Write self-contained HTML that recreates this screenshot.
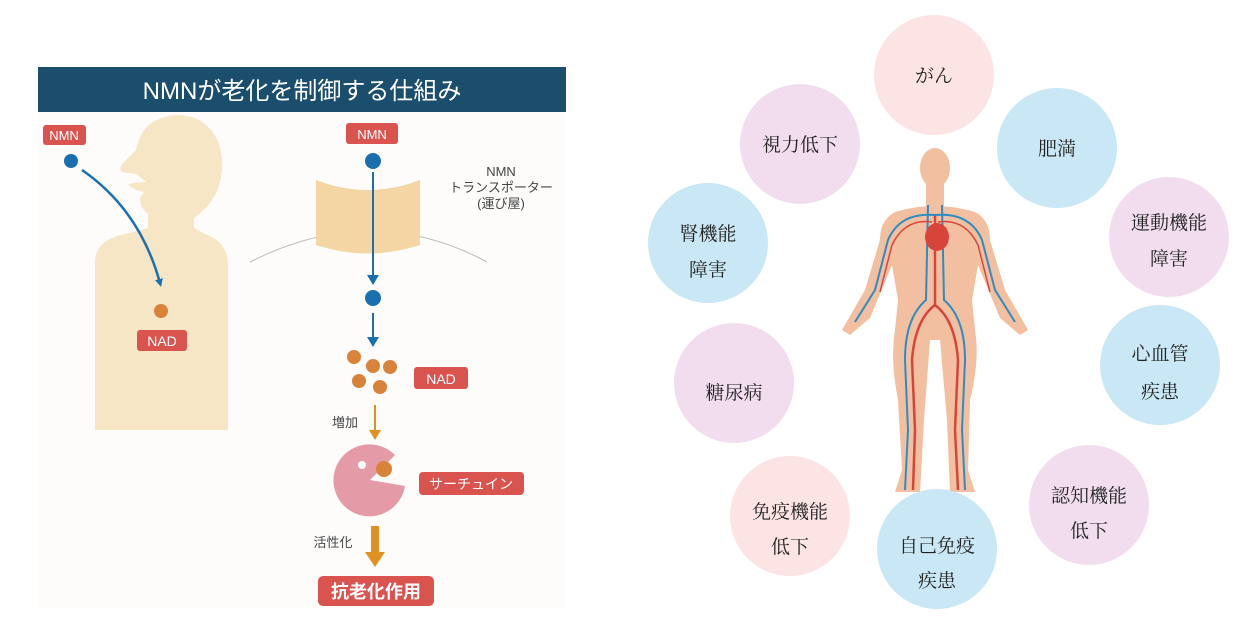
<!DOCTYPE html>
<html><head><meta charset="utf-8"><style>
html,body{margin:0;padding:0;background:#fff;width:1252px;height:640px;overflow:hidden}
svg{display:block}
.s{font-family:"Liberation Sans","Noto Sans CJK JP",sans-serif}
.m{font-family:"Liberation Serif","Noto Serif CJK SC",serif;font-size:19px;fill:#222}
</style></head><body>
<svg width="1252" height="640" viewBox="0 0 1252 640">
<defs>
<marker id="ab" markerWidth="8" markerHeight="8" refX="4" refY="4" orient="auto" markerUnits="userSpaceOnUse"><path d="M0,0 L8,4 L0,8z" fill="#1a6fae"/></marker>
</defs>
<rect x="38" y="67" width="528" height="541" fill="#fdfcfb"/>
<rect x="38" y="67" width="528" height="45" fill="#1b4d6d"/>
<text x="302" y="99" text-anchor="middle" class="s" font-size="24" fill="#fff">NMNが老化を制御する仕組み</text>
<!-- person -->
<path d="M95,430 L95,262 Q95,240 125,234 L148,228 L148,214 Q140,208 140,198 L144,192 Q132,190 128,184 Q138,182 146,182 L136,174 L122,172 Q118,168 124,162 L136,150 Q140,132 150,124 Q170,110 195,118 Q224,132 222,170 Q220,200 194,218 L194,228 L205,234 Q228,242 228,265 L228,430 Z" fill="#f6e6c6"/>
<!-- transporter -->
<path d="M250,262 Q372,200 487,262" fill="none" stroke="#bbb" stroke-width="1"/>
<path d="M316,180 Q368,200 420,180 L420,245 Q368,262 316,245 Z" fill="#f3d6a4"/>
<rect x="43" y="125" width="43" height="20" rx="3" fill="#d9534f"/>
<text x="64" y="140" text-anchor="middle" class="s" font-size="13" fill="#fff">NMN</text>
<circle cx="71" cy="161" r="7" fill="#1a6fae"/>
<path d="M82,170 Q140,210 160,283" fill="none" stroke="#1a6fae" stroke-width="2.5" marker-end="url(#ab)"/>
<circle cx="161" cy="311" r="7" fill="#d9823a"/>
<rect x="137" y="330" width="50" height="21" rx="3" fill="#d9534f"/>
<text x="162" y="346" text-anchor="middle" class="s" font-size="14" fill="#fff">NAD</text>
<rect x="346" y="123" width="52" height="21" rx="3" fill="#d9534f"/>
<text x="372" y="139" text-anchor="middle" class="s" font-size="13" fill="#fff">NMN</text>
<circle cx="373" cy="161" r="8" fill="#1a6fae"/>
<line x1="373" y1="172" x2="373" y2="277" stroke="#1a6fae" stroke-width="2"/>
<path d="M367,275 L379,275 L373,285z" fill="#1a6fae"/>
<circle cx="373" cy="298" r="8" fill="#1a6fae"/>
<line x1="373" y1="313" x2="373" y2="340" stroke="#1a6fae" stroke-width="2"/>
<path d="M367,337 L379,337 L373,347z" fill="#1a6fae"/>
<text x="501" y="176" text-anchor="middle" class="s" font-size="13" fill="#444">NMN</text>
<text x="501" y="192" text-anchor="middle" class="s" font-size="13" fill="#444">トランスポーター</text>
<text x="501" y="208" text-anchor="middle" class="s" font-size="13" fill="#444">(運び屋)</text>
<g fill="#d9823a"><circle cx="354" cy="357" r="7"/><circle cx="373" cy="366" r="7"/><circle cx="390" cy="367" r="7"/><circle cx="359" cy="381" r="7"/><circle cx="380" cy="387" r="7"/></g>
<rect x="414" y="367" width="54" height="22" rx="3" fill="#d9534f"/>
<text x="441" y="384" text-anchor="middle" class="s" font-size="14" fill="#fff">NAD</text>
<text x="345" y="427" text-anchor="middle" class="s" font-size="13" fill="#444">増加</text>
<line x1="375" y1="405" x2="375" y2="432" stroke="#e0901e" stroke-width="2"/>
<path d="M369,430 L381,430 L375,440z" fill="#e0901e"/>
<path d="M405,486 A36,36 0 1 1 395,455 L370,480 Z" fill="#e59aa8"/>
<circle cx="362" cy="465" r="4" fill="#fff"/>
<circle cx="384" cy="469" r="8" fill="#d9823a"/>
<rect x="419" y="472" width="105" height="23" rx="4" fill="#d9534f"/>
<text x="471" y="489" text-anchor="middle" class="s" font-size="14" fill="#fff">サーチュイン</text>
<text x="333" y="547" text-anchor="middle" class="s" font-size="13" fill="#444">活性化</text>
<rect x="371" y="526" width="8" height="28" fill="#e0901e"/>
<path d="M365,552 L385,552 L375,567z" fill="#e0901e"/>
<rect x="318" y="576" width="116" height="30" rx="5" fill="#d9534f"/>
<text x="376" y="598" text-anchor="middle" class="s" font-size="18" font-weight="bold" fill="#fff">抗老化作用</text>
<!-- human figure -->
<g fill="#f2bfa0">
<ellipse cx="935" cy="168" rx="15" ry="20"/>
<rect x="926" y="180" width="18" height="30"/>
<path d="M895,212 Q935,200 975,212 Q990,220 990,240 L1005,290 L1028,330 L1020,335 L1000,318 L978,265 L972,300 L975,330 Q980,360 970,400 L968,470 L975,492 L950,492 L947,420 L940,340 L930,340 L924,420 L920,492 L895,492 L902,470 L898,400 Q890,360 895,330 L898,300 L892,265 L870,318 L850,335 L842,330 L865,290 L880,240 Q880,220 895,212Z"/>
</g>
<g fill="none" stroke-width="2.5">
<path d="M935,215 L935,305 Q915,320 912,360 L915,430 L913,490" stroke="#d9443a"/>
<path d="M935,305 Q955,320 958,360 L955,430 L958,490" stroke="#d9443a"/>
<path d="M928,205 L926,300 Q905,318 905,360 L908,430 L905,490" stroke="#2c8cc4" stroke-width="2"/>
<path d="M942,205 L944,300 Q965,318 965,360 L962,430 L965,490" stroke="#2c8cc4" stroke-width="2"/>
<path d="M935,215 Q900,212 888,240 L875,290 L855,322" stroke="#2c8cc4" stroke-width="2"/>
<path d="M935,215 Q970,212 982,240 L995,290 L1015,322" stroke="#2c8cc4" stroke-width="2"/>
<path d="M932,222 Q905,218 892,245 L880,292" stroke="#d9443a" stroke-width="1.5"/>
<path d="M938,222 Q965,218 978,245 L990,292" stroke="#d9443a" stroke-width="1.5"/>
</g>
<ellipse cx="937" cy="237" rx="12" ry="14" fill="#d9443a"/>
<g>
<circle cx="934" cy="75" r="60" fill="#fbe4e3"/><text x="934" y="82" text-anchor="middle" class="m">がん</text>
<circle cx="800" cy="144" r="60" fill="#f1ddee"/><text x="800" y="151" text-anchor="middle" class="m">視力低下</text>
<circle cx="1057" cy="148" r="60" fill="#c9e7f4"/><text x="1057" y="155" text-anchor="middle" class="m">肥満</text>
<circle cx="708" cy="243" r="60" fill="#c9e7f4"/><text x="708" y="240" text-anchor="middle" class="m">腎機能</text><text x="708" y="276" text-anchor="middle" class="m">障害</text>
<circle cx="1169" cy="237" r="60" fill="#f1ddee"/><text x="1169" y="229" text-anchor="middle" class="m">運動機能</text><text x="1169" y="265" text-anchor="middle" class="m">障害</text>
<circle cx="734" cy="383" r="60" fill="#f1ddee"/><text x="734" y="399" text-anchor="middle" class="m">糖尿病</text>
<circle cx="1160" cy="365" r="60" fill="#c9e7f4"/><text x="1160" y="360" text-anchor="middle" class="m">心血管</text><text x="1160" y="398" text-anchor="middle" class="m">疾患</text>
<circle cx="790" cy="516" r="60" fill="#fbe4e3"/><text x="790" y="518" text-anchor="middle" class="m">免疫機能</text><text x="790" y="553" text-anchor="middle" class="m">低下</text>
<circle cx="937" cy="549" r="60" fill="#c9e7f4"/><text x="937" y="552" text-anchor="middle" class="m">自己免疫</text><text x="937" y="587" text-anchor="middle" class="m">疾患</text>
<circle cx="1089" cy="505" r="60" fill="#f1ddee"/><text x="1089" y="502" text-anchor="middle" class="m">認知機能</text><text x="1089" y="537" text-anchor="middle" class="m">低下</text>
</g>
</svg>
</body></html>
